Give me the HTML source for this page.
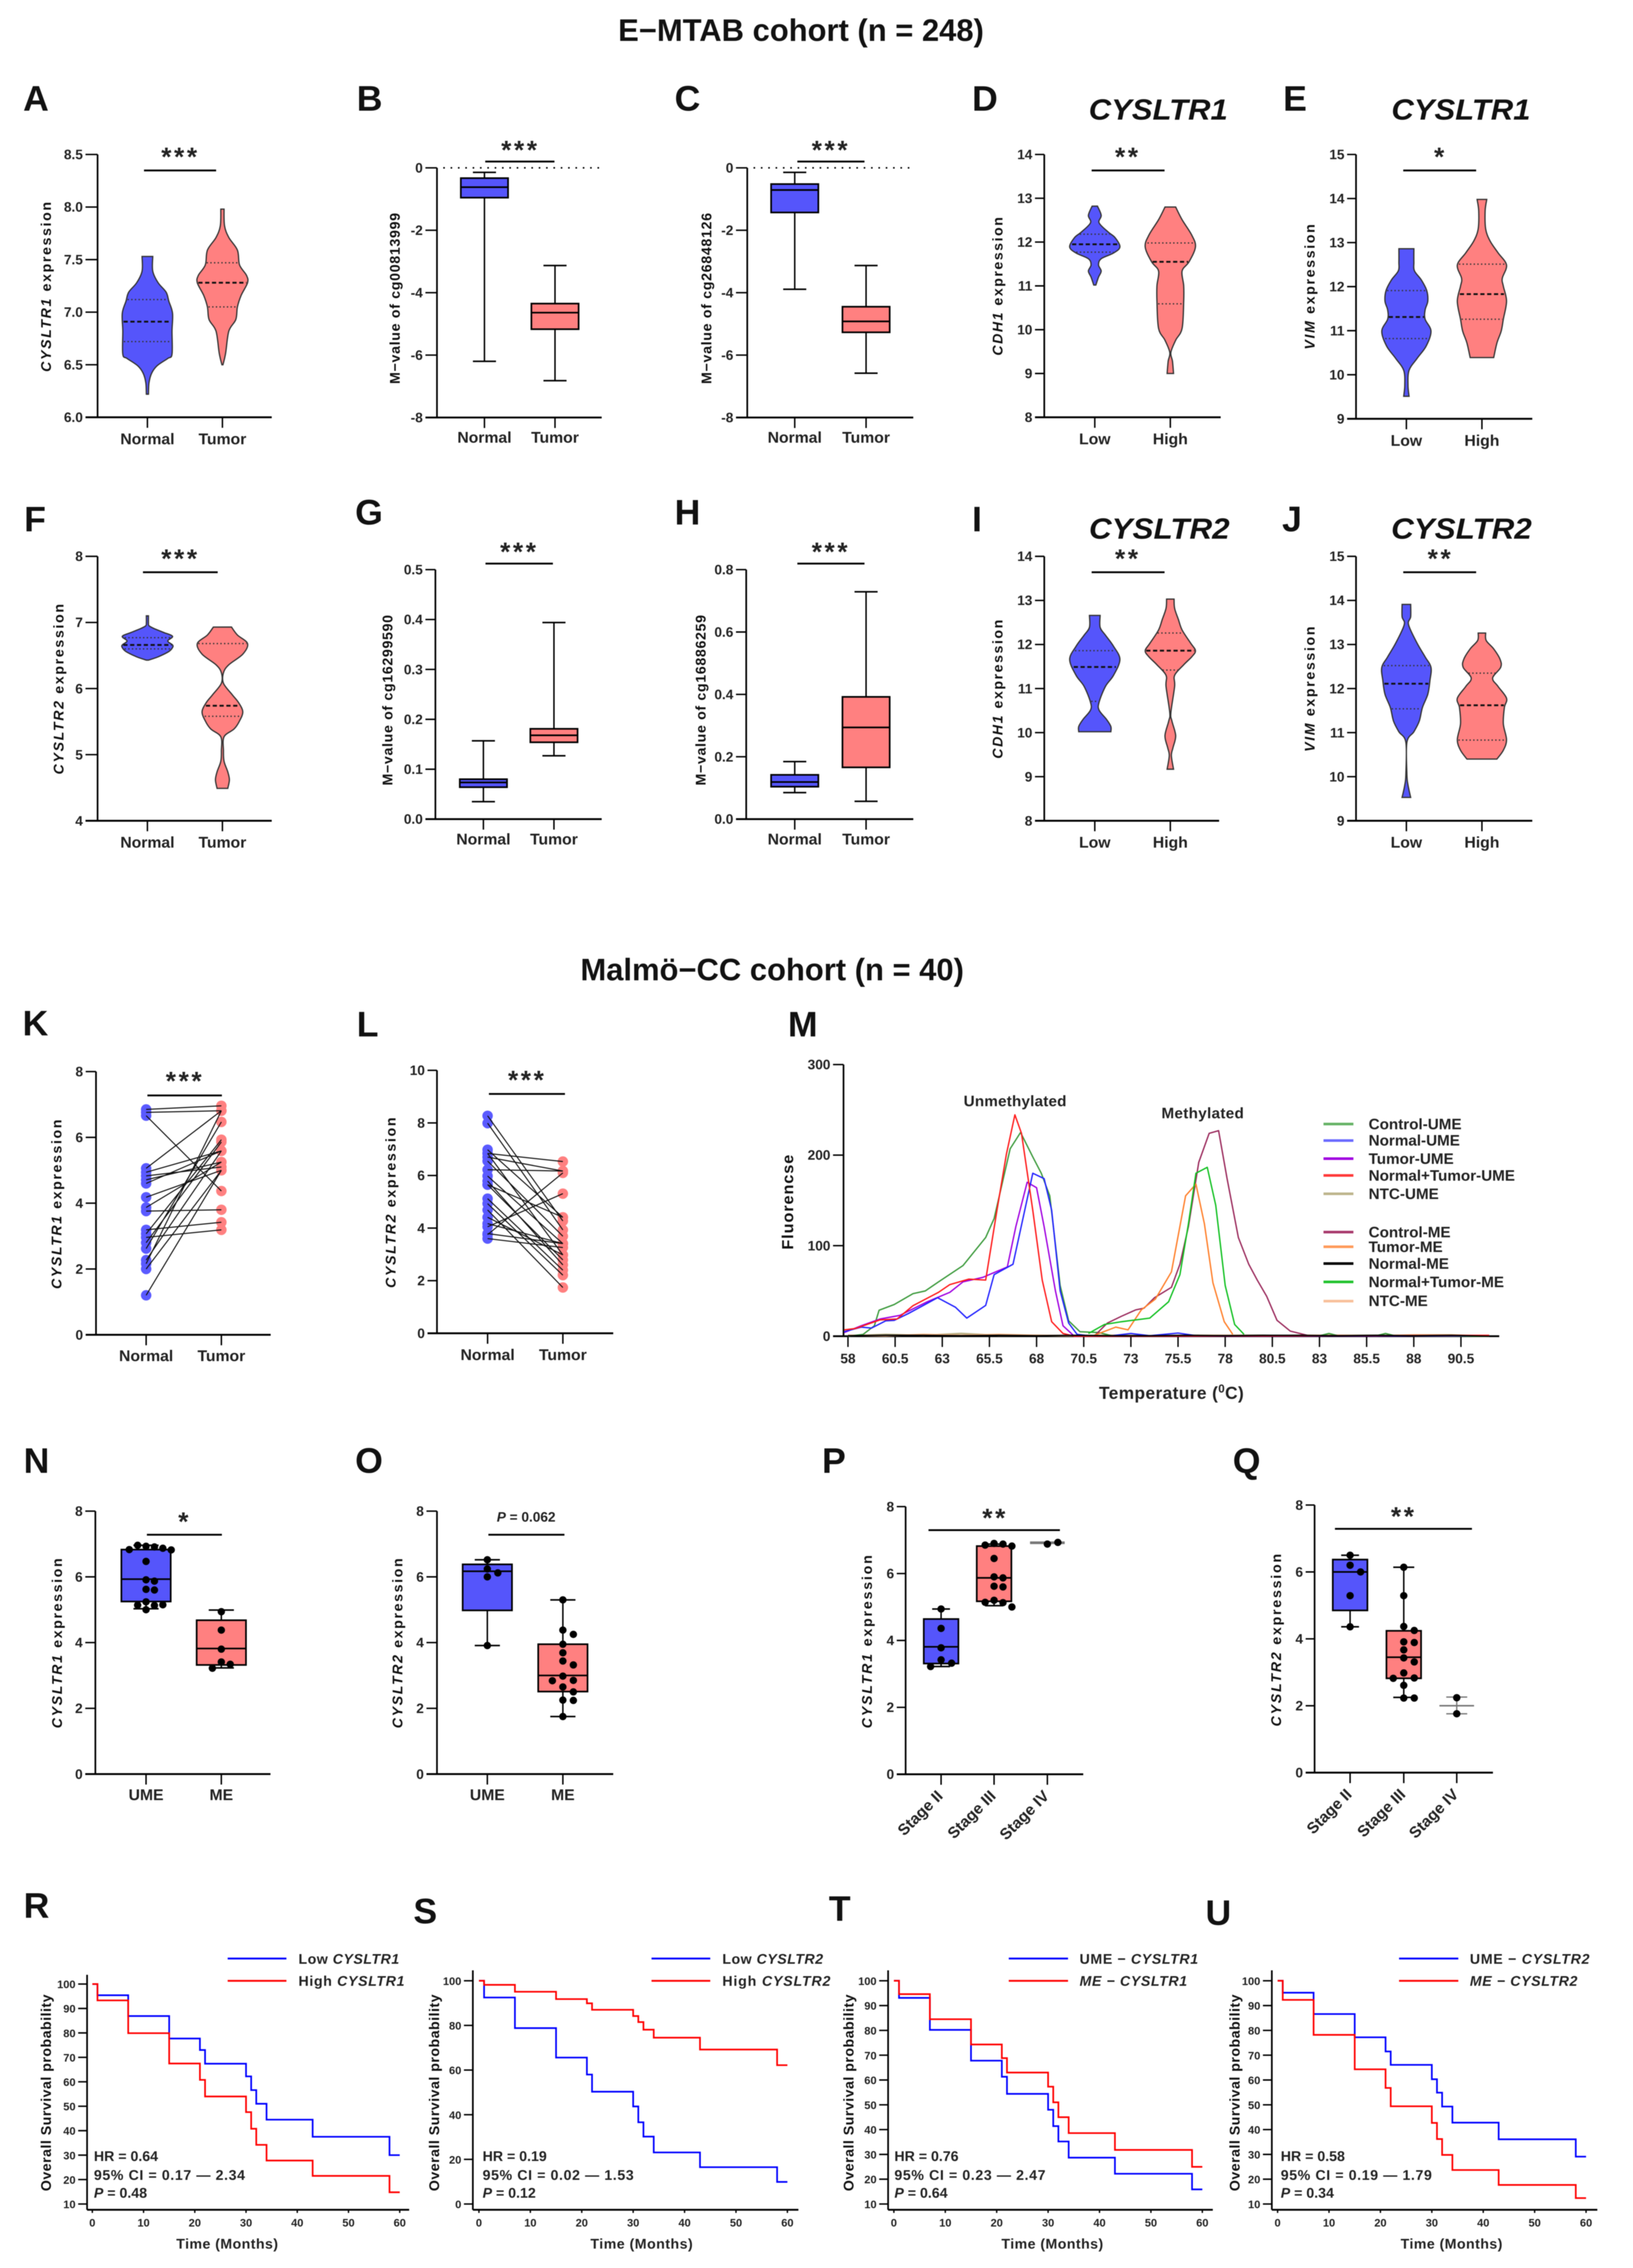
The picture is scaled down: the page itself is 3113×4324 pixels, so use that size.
<!DOCTYPE html>
<html lang="en">
<head>
<meta charset="utf-8">
<title>CYSLTR1 and CYSLTR2 expression figure</title>
<style>
html,body{margin:0;padding:0;background:#fff;}
svg{display:block;font-family:"Liberation Sans",Arial,sans-serif;fill:#111;filter:blur(0.7px);}
.heading{font-size:59px;font-weight:bold;text-anchor:middle;}
.letter{font-size:68px;font-weight:bold;}
.gene{font-size:56px;font-weight:bold;font-style:italic;text-anchor:middle;}
.ytitle{font-size:27px;font-weight:bold;text-anchor:middle;}
.star{font-size:50px;font-weight:bold;text-anchor:middle;letter-spacing:5px;fill:#222;transform:translate(0,-6px);}
.sig{stroke:#000;stroke-width:3.5;}
.tick{font-size:26px;font-weight:bold;fill:#222;}
.cat{font-size:30px;font-weight:bold;fill:#222;}
.leg{font-size:29px;font-weight:bold;fill:#222;}
.km{font-size:27px;font-weight:bold;fill:#222;}
.kmtick{font-size:21px;font-weight:bold;fill:#222;}
.legline{stroke-width:5;}
</style>
</head>
<body>
<svg id="figure" xmlns="http://www.w3.org/2000/svg" width="3113" height="4324" viewBox="0 0 3113 4324">
<rect width="3113" height="4324" fill="#fff"/>
<text class="heading" x="1527" y="78">E−MTAB cohort (n = 248)</text>
<text class="heading" x="1472" y="1869">Malmö−CC cohort (n = 40)</text>

<g id="panel-a">
<text class="letter" x="44" y="211">A</text>
<text class="ytitle" transform="translate(97,547) rotate(-90)" textLength="324"><tspan font-style="italic">CYSLTR1</tspan> expression</text>
<line class="sig" x1="274.5" x2="412" y1="325" y2="325"/>
<text class="star" x="344" y="322">***</text>
</g>
<g id="panel-b">
<text class="letter" x="680" y="211">B</text>
<text class="ytitle" transform="translate(762,569) rotate(-90)" textLength="326">M−value of cg00813999</text>
<line class="sig" x1="925" x2="1057" y1="308" y2="308"/>
<text class="star" x="992" y="309">***</text>
</g>
<g id="panel-c">
<text class="letter" x="1286" y="211">C</text>
<text class="ytitle" transform="translate(1356,569) rotate(-90)" textLength="326">M−value of cg26848126</text>
<line class="sig" x1="1520" x2="1648" y1="308" y2="308"/>
<text class="star" x="1584" y="309">***</text>
</g>
<g id="panel-d">
<text class="letter" x="1853" y="211">D</text>
<text class="gene" x="2208" y="228" textLength="265" lengthAdjust="spacingAndGlyphs">CYSLTR1</text>
<text class="ytitle" transform="translate(1911,546) rotate(-90)" textLength="264"><tspan font-style="italic">CDH1</tspan> expression</text>
<line class="sig" x1="2081" x2="2220" y1="325" y2="325"/>
<text class="star" x="2150" y="322">**</text>
</g>
<g id="panel-e">
<text class="letter" x="2446" y="211">E</text>
<text class="gene" x="2785" y="228" textLength="265" lengthAdjust="spacingAndGlyphs">CYSLTR1</text>
<text class="ytitle" transform="translate(2506,547) rotate(-90)" textLength="239"><tspan font-style="italic">VIM</tspan> expression</text>
<line class="sig" x1="2675" x2="2814" y1="325" y2="325"/>
<text class="star" x="2746" y="322">*</text>
</g>
<g id="panel-f">
<text class="letter" x="46" y="1013">F</text>
<text class="ytitle" transform="translate(121,1314) rotate(-90)" textLength="325"><tspan font-style="italic">CYSLTR2</tspan> expression</text>
<line class="sig" x1="272.5" x2="415" y1="1091" y2="1091"/>
<text class="star" x="344" y="1088">***</text>
</g>
<g id="panel-g">
<text class="letter" x="677" y="1000">G</text>
<text class="ytitle" transform="translate(748,1335) rotate(-90)" textLength="325">M−value of cg16299590</text>
<line class="sig" x1="925.5" x2="1054" y1="1074.5" y2="1074.5"/>
<text class="star" x="990" y="1075">***</text>
</g>
<g id="panel-h">
<text class="letter" x="1286" y="1000">H</text>
<text class="ytitle" transform="translate(1345,1335) rotate(-90)" textLength="325">M−value of cg16886259</text>
<line class="sig" x1="1520" x2="1648" y1="1074.5" y2="1074.5"/>
<text class="star" x="1584" y="1075">***</text>
</g>
<g id="panel-i">
<text class="letter" x="1853" y="1013">I</text>
<text class="gene" x="2210" y="1027" textLength="268" lengthAdjust="spacingAndGlyphs">CYSLTR2</text>
<text class="ytitle" transform="translate(1911,1314) rotate(-90)" textLength="265"><tspan font-style="italic">CDH1</tspan> expression</text>
<line class="sig" x1="2081" x2="2220" y1="1091" y2="1091"/>
<text class="star" x="2150" y="1088">**</text>
</g>
<g id="panel-j">
<text class="letter" x="2444" y="1013">J</text>
<text class="gene" x="2786" y="1027" textLength="268" lengthAdjust="spacingAndGlyphs">CYSLTR2</text>
<text class="ytitle" transform="translate(2506,1314) rotate(-90)" textLength="239"><tspan font-style="italic">VIM</tspan> expression</text>
<line class="sig" x1="2675" x2="2814" y1="1091" y2="1091"/>
<text class="star" x="2746" y="1088">**</text>
</g>
<g id="panel-k">
<text class="letter" x="43" y="1974">K</text>
<text class="ytitle" transform="translate(117,2296) rotate(-90)" textLength="323"><tspan font-style="italic">CYSLTR1</tspan> expression</text>
<line class="sig" x1="281" x2="423" y1="2088.5" y2="2088.5"/>
<text class="star" x="352.7" y="2084">***</text>
</g>
<g id="panel-l">
<text class="letter" x="680" y="1976">L</text>
<text class="ytitle" transform="translate(754,2293) rotate(-90)" textLength="325"><tspan font-style="italic">CYSLTR2</tspan> expression</text>
<line class="sig" x1="932" x2="1077" y1="2085.6" y2="2085.6"/>
<text class="star" x="1005" y="2082">***</text>
</g>
<g id="panel-m">
<text class="letter" x="1502" y="1976">M</text>
<text class="ytitle" font-size="31" style="font-size:31px" transform="translate(1512,2292) rotate(-90)" textLength="181">Fluorencse</text>
<text font-size="33" font-weight="bold" fill="#222" x="2233" y="2667" text-anchor="middle" textLength="276">Temperature (<tspan dy="-12" font-size="22">0</tspan><tspan dy="12">C)</tspan></text>
<text class="leg" x="1935" y="2109" text-anchor="middle" textLength="196">Unmethylated</text>
<text class="leg" x="2292.6" y="2132" text-anchor="middle" textLength="157">Methylated</text>
<g>
<line class="legline" stroke="#66b266" x1="2523" x2="2580" y1="2143" y2="2143"/>
<text class="leg" x="2609" y="2153">Control-UME</text>
<line class="legline" stroke="#6a6aff" x1="2523" x2="2580" y1="2174.5" y2="2174.5"/>
<text class="leg" x="2609" y="2184">Normal-UME</text>
<line class="legline" stroke="#a000e0" x1="2523" x2="2580" y1="2209" y2="2209"/>
<text class="leg" x="2609" y="2219">Tumor-UME</text>
<line class="legline" stroke="#ff3a3a" x1="2523" x2="2580" y1="2241" y2="2241"/>
<text class="leg" x="2609" y="2251">Normal+Tumor-UME</text>
<line class="legline" stroke="#bdb48c" x1="2523" x2="2580" y1="2276" y2="2276"/>
<text class="leg" x="2609" y="2286">NTC-UME</text>
<line class="legline" stroke="#a83a6c" x1="2523" x2="2580" y1="2349" y2="2349"/>
<text class="leg" x="2609" y="2359">Control-ME</text>
<line class="legline" stroke="#ff9a5a" x1="2523" x2="2580" y1="2377" y2="2377"/>
<text class="leg" x="2609" y="2387">Tumor-ME</text>
<line class="legline" stroke="#000" x1="2523" x2="2580" y1="2409" y2="2409"/>
<text class="leg" x="2609" y="2419">Normal-ME</text>
<line class="legline" stroke="#22c32e" x1="2523" x2="2580" y1="2444" y2="2444"/>
<text class="leg" x="2609" y="2454">Normal+Tumor-ME</text>
<line class="legline" stroke="#f8c09a" x1="2523" x2="2580" y1="2480.6" y2="2480.6"/>
<text class="leg" x="2609" y="2490">NTC-ME</text>
</g>
</g>
<g id="panel-n">
<text class="letter" x="45" y="2808">N</text>
<text class="ytitle" transform="translate(118,3133) rotate(-90)" textLength="324"><tspan font-style="italic">CYSLTR1</tspan> expression</text>
<line class="sig" x1="280" x2="423" y1="2926" y2="2926"/>
<text class="star" x="352" y="2924">*</text>
</g>
<g id="panel-o">
<text class="letter" x="677" y="2808">O</text>
<text class="ytitle" transform="translate(767,3133) rotate(-90)" textLength="324"><tspan font-style="italic">CYSLTR2</tspan> expression</text>
<line class="sig" x1="931" x2="1076" y1="2926" y2="2926"/>
<text class="tick" x="1003" y="2901" text-anchor="middle"><tspan font-style="italic">P</tspan> = 0.062</text>
</g>
<g id="panel-p">
<text class="letter" x="1567" y="2808">P</text>
<text class="ytitle" transform="translate(1662,3130) rotate(-90)" textLength="330"><tspan font-style="italic">CYSLTR1</tspan> expression</text>
<line class="sig" x1="1770" x2="2020.5" y1="2917.3" y2="2917.3"/>
<text class="star" x="1897" y="2917">**</text>
</g>
<g id="panel-q">
<text class="letter" x="2350" y="2808">Q</text>
<text class="ytitle" transform="translate(2442,3127) rotate(-90)" textLength="329"><tspan font-style="italic">CYSLTR2</tspan> expression</text>
<line class="sig" x1="2544.8" x2="2806" y1="2914.8" y2="2914.8"/>
<text class="star" x="2676" y="2914">**</text>
</g>
<g id="panel-r">
<text class="letter" x="45" y="3656">R</text>
<text class="ytitle" transform="translate(97,3990) rotate(-90)" textLength="375">Overall Survival probability</text>
<text class="km" x="433" y="4287" text-anchor="middle" textLength="194">Time (Months)</text>
<g>
<line stroke="#0000ff" stroke-width="3.5" x1="434" x2="546" y1="3734" y2="3734"/>
<text class="km" x="569" y="3744" textLength="192">Low <tspan font-style="italic">CYSLTR1</tspan></text>
<line stroke="#ff0000" stroke-width="3.5" x1="434" x2="546" y1="3776.5" y2="3776.5"/>
<text class="km" x="569" y="3786" textLength="202">High <tspan font-style="italic">CYSLTR1</tspan></text>
</g>
<text class="km" x="179" y="4120">HR = 0.64</text>
<text class="km" x="179" y="4156" textLength="288">95% CI = 0.17 — 2.34</text>
<text class="km" x="179" y="4190"><tspan font-style="italic">P</tspan> = 0.48</text>
</g>
<g id="panel-s">
<text class="letter" x="788" y="3667">S</text>
<text class="ytitle" transform="translate(837,3990) rotate(-90)" textLength="375">Overall Survival probability</text>
<text class="km" x="1223" y="4287" text-anchor="middle" textLength="195">Time (Months)</text>
<g>
<line stroke="#0000ff" stroke-width="3.5" x1="1242" x2="1354" y1="3734" y2="3734"/>
<text class="km" x="1377" y="3744" textLength="192">Low <tspan font-style="italic">CYSLTR2</tspan></text>
<line stroke="#ff0000" stroke-width="3.5" x1="1242" x2="1354" y1="3776.5" y2="3776.5"/>
<text class="km" x="1377" y="3786" textLength="206">High <tspan font-style="italic">CYSLTR2</tspan></text>
</g>
<text class="km" x="920" y="4120">HR = 0.19</text>
<text class="km" x="920" y="4156" textLength="288">95% CI = 0.02 — 1.53</text>
<text class="km" x="920" y="4190"><tspan font-style="italic">P</tspan> = 0.12</text>
</g>
<g id="panel-t">
<text class="letter" x="1580" y="3662">T</text>
<text class="ytitle" transform="translate(1627,3990) rotate(-90)" textLength="375">Overall Survival probability</text>
<text class="km" x="2006" y="4287" text-anchor="middle" textLength="194">Time (Months)</text>
<g>
<line stroke="#0000ff" stroke-width="3.5" x1="1923" x2="2036" y1="3734" y2="3734"/>
<text class="km" x="2058" y="3744" textLength="226">UME − <tspan font-style="italic">CYSLTR1</tspan></text>
<line stroke="#ff0000" stroke-width="3.5" x1="1923" x2="2036" y1="3776.5" y2="3776.5"/>
<text class="km" x="2058" y="3786" textLength="205"><tspan font-style="italic">ME − CYSLTR1</tspan></text>
</g>
<text class="km" x="1705" y="4120">HR = 0.76</text>
<text class="km" x="1705" y="4156" textLength="288">95% CI = 0.23 — 2.47</text>
<text class="km" x="1705" y="4190"><tspan font-style="italic">P</tspan> = 0.64</text>
</g>
<g id="panel-u">
<text class="letter" x="2298" y="3670">U</text>
<text class="ytitle" transform="translate(2363,3990) rotate(-90)" textLength="375">Overall Survival probability</text>
<text class="km" x="2767" y="4287" text-anchor="middle" textLength="194">Time (Months)</text>
<g>
<line stroke="#0000ff" stroke-width="3.5" x1="2667" x2="2780" y1="3734" y2="3734"/>
<text class="km" x="2802" y="3744" textLength="228">UME − <tspan font-style="italic">CYSLTR2</tspan></text>
<line stroke="#ff0000" stroke-width="3.5" x1="2667" x2="2780" y1="3776.5" y2="3776.5"/>
<text class="km" x="2802" y="3786" textLength="205"><tspan font-style="italic">ME − CYSLTR2</tspan></text>
</g>
<text class="km" x="2441.5" y="4120">HR = 0.58</text>
<text class="km" x="2441.5" y="4156" textLength="288">95% CI = 0.19 — 1.79</text>
<text class="km" x="2441.5" y="4190"><tspan font-style="italic">P</tspan> = 0.34</text>
</g>
</svg>

<script>
/* ---------- category and tick labels ---------- */
const groupsNT = ['Normal', 'Tumor'];
const groupsLH = ['Low', 'High'];
const groupsUM = ['UME', 'ME'];
const groupsStage = ['Stage II', 'Stage III', 'Stage IV'];
const ticksA = ['6.0', '6.5', '7.0', '7.5', '8.0', '8.5'];
const ticksMeth = ['-8', '-6', '-4', '-2', '0'];
const ticks8to14 = ['8', '9', '10', '11', '12', '13', '14'];
const ticks9to15 = ['9', '10', '11', '12', '13', '14', '15'];
const ticksF = ['4', '5', '6', '7', '8'];
const ticksG = ['0.0', '0.1', '0.2', '0.3', '0.4', '0.5'];
const ticksH = ['0.0', '0.2', '0.4', '0.6', '0.8'];
const ticks0to8 = ['0', '2', '4', '6', '8'];
const ticks0to10 = ['0', '2', '4', '6', '8', '10'];
const ticksMeltY = ['0', '100', '200', '300'];
const ticksMeltX = ['58', '60.5', '63', '65.5', '68', '70.5', '73', '75.5', '78', '80.5', '83', '85.5', '88', '90.5'];
const ticksKmY10 = ['10', '20', '30', '40', '50', '60', '70', '80', '90', '100'];
const ticksKmY0 = ['0', '20', '40', '60', '80', '100'];
const ticksKmX = ['0', '10', '20', '30', '40', '50', '60'];

/* ---------- violin data: values, density, [q1, median, q3] ---------- */
const aNormalV = [6.22, 6.33, 6.42, 6.49, 6.56, 6.60, 6.82, 6.99, 7.105, 7.19, 7.28, 7.39, 7.53];
const aNormalD = [2, 3, 8, 18, 38, 46, 46, 47, 40, 35, 20, 10, 10];
const aNormalQ = [6.72, 6.91, 7.12];
const aTumorV = [6.50, 6.61, 6.82, 6.93, 7.05, 7.16, 7.28, 7.35, 7.45, 7.59, 7.71, 7.82, 7.98];
const aTumorD = [1, 6, 12, 25, 28, 35, 47, 45, 32, 28, 12, 4, 3];
const aTumorQ = [7.05, 7.28, 7.47];
const dLowV = [11.02, 11.2, 11.34, 11.48, 11.62, 11.75, 11.89, 12.1, 12.23, 12.44, 12.61, 12.82];
const dLowD = [2, 7, 12, 7, 12, 35, 47, 38, 25, 8, 12, 5];
const dLowQ = [11.77, 11.95, 12.18];
const dHighV = [9.0, 9.28, 9.48, 9.76, 10.03, 10.65, 11.0, 11.34, 11.55, 11.89, 12.16, 12.51, 12.8];
const dHighD = [6, 4, 1, 10, 22, 25, 25, 22, 35, 47, 40, 22, 10];
const dHighQ = [10.59, 11.55, 11.98];
const eLowV = [9.51, 9.76, 10.10, 10.37, 10.65, 10.99, 11.26, 11.47, 11.67, 11.91, 12.15, 12.36, 12.56, 12.86];
const eLowD = [5, 3, 5, 20, 37, 46, 35, 35, 40, 38, 28, 15, 14, 14];
const eLowQ = [10.82, 11.31, 11.91];
const eHighV = [10.39, 10.72, 10.99, 11.26, 11.67, 12.01, 12.19, 12.49, 12.77, 13.04, 13.31, 13.72, 13.98];
const eHighD = [22, 28, 36, 40, 46, 40, 38, 46, 30, 15, 7, 6, 9];
const eHighQ = [11.26, 11.83, 12.51];
const fNormalV = [6.43, 6.48, 6.56, 6.62, 6.66, 6.72, 6.79, 6.85, 6.91, 6.95, 6.99, 7.10];
const fNormalD = [2, 20, 40, 47, 47, 38, 47, 30, 12, 3, 2, 2];
const fNormalQ = [6.60, 6.66, 6.77];
const fTumorV = [4.49, 4.62, 4.74, 4.90, 5.06, 5.27, 5.39, 5.51, 5.65, 5.79, 5.91, 6.08, 6.24, 6.36, 6.52, 6.68, 6.81, 6.93];
const fTumorD = [10, 13, 10, 3, 2, 3, 22, 32, 38, 30, 18, 2, 2, 12, 38, 47, 28, 17];
const fTumorQ = [5.58, 5.74, 6.68];
const iLowV = [10.02, 10.14, 10.30, 10.51, 10.69, 11.05, 11.30, 11.66, 11.96, 12.21, 12.39, 12.66];
const iLowD = [30, 30, 22, 8, 8, 20, 35, 47, 35, 20, 10, 10];
const iLowQ = [10.71, 11.49, 11.86];
const iHighV = [9.17, 9.48, 9.66, 9.93, 10.26, 10.45, 11.05, 11.30, 11.54, 11.72, 11.86, 12.03, 12.33, 12.57, 12.82, 13.03];
const iHighD = [6, 2, 5, 10, 3, 1, 8, 8, 25, 40, 47, 38, 22, 15, 8, 7];
const iHighQ = [11.42, 11.86, 12.26];
const jLowV = [9.53, 9.81, 10.05, 10.78, 11.02, 11.26, 11.57, 11.87, 12.18, 12.48, 12.72, 13.03, 13.45, 13.63, 13.91];
const jLowD = [8, 3, 1, 1, 14, 24, 30, 40, 44, 46, 35, 20, 4, 8, 8];
const jLowQ = [11.54, 12.11, 12.52];
const jHighV = [10.40, 10.60, 10.84, 11.20, 11.57, 11.78, 12.05, 12.24, 12.48, 12.66, 12.90, 13.09, 13.26];
const jHighD = [28, 40, 46, 40, 42, 46, 30, 20, 35, 34, 22, 8, 7];
const jHighQ = [10.83, 11.62, 12.35];

/* ---------- box data: [low, q1, median, q3, high] ---------- */
const bNormalBox = [-6.2, -0.955, -0.62, -0.33, -0.145];
const bTumorBox = [-6.82, -5.17, -4.64, -4.35, -3.13];
const cNormalBox = [-3.89, -1.43, -0.71, -0.52, -0.145];
const cTumorBox = [-6.58, -5.27, -4.92, -4.45, -3.13];
const gNormalBox = [0.035, 0.064, 0.0735, 0.080, 0.157];
const gTumorBox = [0.127, 0.154, 0.168, 0.181, 0.394];
const hNormalBox = [0.085, 0.104, 0.119, 0.142, 0.1845];
const hTumorBox = [0.057, 0.166, 0.294, 0.392, 0.729];
const nUmeBox = [5.03, 5.25, 5.93, 6.83, 6.96];
const nMeBox = [3.23, 3.32, 3.82, 4.68, 4.99];
const oUmeBox = [3.91, 4.98, 6.17, 6.38, 6.52];
const oMeBox = [1.75, 2.51, 3.0, 3.95, 5.3];
const pStage2Box = [3.22, 3.31, 3.81, 4.64, 4.94];
const pStage3Box = [5.04, 5.17, 5.87, 6.82, 6.88];
const pStage4Line = [6.9, 6.92, 6.94];
const qStage2Box = [4.36, 4.85, 6.0, 6.37, 6.5];
const qStage3Box = [2.25, 2.82, 3.45, 4.24, 6.14];
const qStage4Line = [1.76, 2.0, 2.26];

/* ---------- dots over boxes ---------- */
const nUmeDots = [6.93, 6.91, 6.96, 6.87, 6.83, 6.82, 6.47, 5.91, 5.87, 5.62, 5.6, 5.24, 5.13, 5.14, 5.15, 5.0];
const nMeDots = [4.94, 4.38, 3.8, 3.41, 3.34, 3.22];
const oUmeDots = [6.52, 6.24, 6.12, 6.0, 3.91];
const oMeDots = [5.3, 4.38, 4.25, 3.95, 3.69, 3.44, 3.32, 2.98, 2.85, 2.84, 2.65, 2.5, 2.25, 2.24, 1.75];
const pStage2Dots = [4.94, 4.36, 3.78, 3.42, 3.32, 3.22];
const pStage3Dots = [6.9, 6.88, 6.85, 6.82, 6.45, 5.9, 5.87, 5.62, 5.6, 5.2, 5.13, 5.14, 5.0];
const pStage4Dots = [6.88, 6.93];
const qStage2Dots = [6.5, 6.2, 6.0, 5.29, 4.36];
const qStage3Dots = [6.14, 5.29, 4.37, 4.25, 3.91, 3.89, 3.67, 3.43, 3.31, 2.98, 2.83, 2.82, 2.61, 2.23, 2.23];
const qStage4Dots = [2.24, 1.76];

/* ---------- paired samples ---------- */
const kNormal = [6.85, 6.76, 6.66, 5.06, 4.94, 4.83, 4.71, 4.6, 4.18, 3.87, 3.76, 3.19, 3.07, 2.96, 2.8, 2.62, 2.27, 2.16, 2.0, 1.2];
const kTumor = [6.96, 6.81, 4.37, 6.81, 5.59, 5.10, 5.25, 5.59, 5.0, 5.25, 3.8, 3.42, 5.93, 3.19, 5.86, 6.47, 5.59, 6.81, 5.0, 5.0];
const lNormal = [8.27, 7.99, 6.98, 6.84, 6.84, 6.7, 6.55, 6.22, 5.98, 5.79, 5.65, 5.65, 5.12, 4.93, 4.69, 4.41, 4.17, 4.05, 3.79, 3.75, 3.6];
const lTumor = [4.27, 3.93, 4.41, 6.53, 2.98, 6.17, 3.69, 6.17, 3.41, 2.6, 4.41, 2.79, 2.4, 2.21, 1.74, 2.98, 3.41, 5.31, 3.41, 6.1, 3.26];

/* ---------- melt curves (temperature, fluorescence) ---------- */
const meltControlUmeT = [58, 58.8, 59.4, 59.65, 60.45, 61.45, 62.1, 62.8, 64.1, 65.3, 65.75, 66.6, 67.15, 67.8, 68.25, 68.7, 69.25, 69.7, 70.3, 71.3, 72, 83, 83.5, 84, 86, 86.5, 87, 92];
const meltControlUmeF = [0, 2, 11.5, 28.7, 35, 47, 50, 60, 78, 109, 130, 207, 225, 198, 180, 155, 56, 17, 5, 4, 0.5, 0.5, 3, 0.5, 0.5, 3, 0.5, 0];
const meltNormalUmeT = [57.8, 58.7, 59.25, 60, 60.45, 61.2, 62.75, 63.7, 64.3, 65.3, 65.75, 66.75, 67.8, 68.4, 68.8, 69.25, 69.7, 70.15, 71, 72, 73, 74, 75.5, 76.5, 92];
const meltNormalUmeF = [5, 10, 9, 17, 17.5, 25, 42.5, 32, 20, 34, 68, 79.5, 180, 174, 139, 50, 14.5, 2, 0, 0.5, 3, 0.5, 3.5, 0.5, 0.5];
const meltTumorUmeT = [57.8, 58.7, 59.7, 60.75, 62.2, 63.4, 64.1, 65.15, 66.45, 66.9, 67.5, 68, 68.4, 69, 69.4, 70, 92];
const meltTumorUmeF = [4, 11.5, 19, 23, 38, 48.5, 60, 65, 76.5, 121, 170, 164, 121, 50, 11.5, 0, 0.5];
const meltMixUmeT = [57.8, 58.4, 59.7, 60.6, 61.45, 62.8, 63.4, 64.4, 65.3, 65.9, 66.4, 66.85, 67.2, 67.8, 68.3, 68.8, 69.4, 70, 92];
const meltMixUmeF = [7, 8.5, 18, 19, 33.7, 48.5, 57, 63, 62, 139, 201, 244.5, 224, 139, 62, 16, 3, 0, 1];
const meltControlMeT = [71.05, 71.75, 72.5, 73.25, 73.7, 74.25, 75.15, 75.6, 76.05, 76.6, 77.15, 77.65, 78.1, 78.7, 79.25, 79.7, 80.2, 80.75, 81.45, 82.35];
const meltControlMeF = [0, 14.5, 22, 29, 31, 42.5, 54, 79.5, 121, 192, 224, 227, 174, 109, 79.5, 62, 44, 17.5, 5.6, 1];
const meltTumorMeT = [71.05, 72.2, 72.85, 73.55, 74.3, 75.15, 75.9, 76.45, 76.9, 77.35, 77.95, 78.4];
const meltTumorMeF = [1, 10, 7, 29, 41, 71, 155, 168, 124, 59, 16, 2];
const meltMixMeT = [70.75, 71.6, 72.5, 74, 75, 75.6, 76.05, 76.45, 77.05, 77.5, 78, 78.5, 79];
const meltMixMeF = [3, 13, 16, 20, 38, 68, 124, 180, 186.5, 144.5, 56, 13, 2];
const meltBaseT = [58, 60, 62, 64, 66, 68, 70, 72, 74, 76, 78, 80, 82, 84, 86, 88, 90, 92];
const meltNormalMeF = [0.5, 1, 1, 0.5, 1, 0.5, 1, 0.5, 0.5, 1, 0.5, 1, 1, 0.5, 1, 0.5, 1, 0];
const meltNtcUmeF = [0.5, 2, 1, 3, 1, 1, 0.5, 1, 0.5, 1, 1, 1, 0.5, 1, 1, 0.5, 0.5, 0];
const meltNtcMeF = [1, 0.5, 2, 1, 2, 1, 0.5, 1, 0.5, 0.5, 1, 0.5, 1, 1, 0.5, 1.5, 1.5, 0];

/* ---------- survival (level held from kmTimes[i] to kmTimes[i+1]) ---------- */
const kmTimes = [0, 1, 7, 15, 21, 22, 30, 31, 32, 34, 43, 58, 60];
const kmRLow = [100, 95.4, 86.9, 77.7, 73, 67.4, 62.2, 56.6, 51, 44.5, 37.5, 30];
const kmRHigh = [100, 93.3, 79.9, 67.5, 60.8, 54, 47.6, 40.8, 34.2, 27.8, 21.5, 14.8];
const kmSLow = [100, 92.5, 78.8, 65.6, 58, 50.3, 43.7, 36.6, 30.2, 23.1, 16.5, 9.9];
const kmSHigh = [100, 98.2, 95.1, 91.8, 89.9, 87, 84.2, 81.5, 78.1, 74.5, 69.2, 62.2];
const kmTUme = [100, 93.1, 80.2, 67.8, 61.3, 54.4, 48, 41.4, 35.2, 28.7, 22.2, 15.9];
const kmTMe = [100, 94.6, 84.5, 74.3, 68.8, 63, 57.3, 51, 45, 38.6, 31.8, 25];
const kmUUme = [100, 95.2, 86.6, 77.2, 71.5, 66.1, 60.3, 54.9, 49.3, 42.8, 36.1, 29.1];
const kmUMe = [100, 92.3, 78.2, 64.3, 56.8, 49.4, 42.7, 36.2, 29.8, 23.7, 17.7, 12.4];

/* ---------- layout of each axis frame ---------- */
const BLUE = '#5555fb';
const PINK = '#ff8080';
const axisA = {id:'a', x:186, yMinPx:795.6, yMaxPx:294.5, dMin:6, dMax:8.5, left:163, right:518, cats:[281,424], labelY:847};
const axisB = {id:'b', x:833, yMinPx:796, yMaxPx:320, dMin:-8, dMax:0, left:811, right:1147, cats:[923.5,1058], labelY:844};
const axisC = {id:'c', x:1424.5, yMinPx:796, yMaxPx:320, dMin:-8, dMax:0, left:1403, right:1741, cats:[1515,1651], labelY:844};
const axisD = {id:'d', x:1990.7, yMinPx:795.6, yMaxPx:294.5, dMin:8, dMax:14, left:1973, right:2327, cats:[2087,2231], labelY:847};
const axisE = {id:'e', x:2585, yMinPx:798.4, yMaxPx:294.5, dMin:9, dMax:15, left:2568, right:2921, cats:[2681,2825], labelY:850};
const axisF = {id:'f', x:186, yMinPx:1564.8, yMaxPx:1060.7, dMin:4, dMax:8, left:163, right:518, cats:[281,424], labelY:1616};
const axisG = {id:'g', x:830, yMinPx:1561.7, yMaxPx:1086, dMin:0, dMax:0.5, left:811, right:1147, cats:[921.5,1056], labelY:1610};
const axisH = {id:'h', x:1422.5, yMinPx:1561.7, yMaxPx:1086, dMin:0, dMax:0.8, left:1403, right:1741, cats:[1515,1651], labelY:1610};
const axisI = {id:'i', x:1990.7, yMinPx:1564.8, yMaxPx:1060.7, dMin:8, dMax:14, left:1973, right:2324, cats:[2087,2231], labelY:1616};
const axisJ = {id:'j', x:2585, yMinPx:1564.8, yMaxPx:1060.7, dMin:9, dMax:15, left:2568, right:2921, cats:[2681,2825], labelY:1616};
const axisK = {id:'k', x:183, yMinPx:2544.8, yMaxPx:2043, dMin:0, dMax:8, left:163.4, right:516, cats:[278.6,422], labelY:2595};
const axisL = {id:'l', x:833, yMinPx:2541.9, yMaxPx:2040.6, dMin:0, dMax:10, left:815, right:1169, cats:[929.5,1073], labelY:2593};
const axisN = {id:'n', x:181.8, yMinPx:3382.3, yMaxPx:2881, dMin:0, dMax:8, left:162.6, right:515.6, cats:[278.4,421.9], labelY:3432};
const axisO = {id:'o', x:833, yMinPx:3382.3, yMaxPx:2881, dMin:0, dMax:8, left:813, right:1169, cats:[929,1073], labelY:3432};
const axisP = {id:'p', x:1726.4, yMinPx:3382.7, yMaxPx:2872.4, dMin:0, dMax:8, left:1709.5, right:2065, cats:[1794,1895,1996.6], rotateY:3426};
const axisQ = {id:'q', x:2506, yMinPx:3379.6, yMaxPx:2869.4, dMin:0, dMax:8, left:2489, right:2846, cats:[2573.7,2676,2777], rotateY:3423};
const axisM = {id:'m', x:1608, yMinPx:2547.5, yMaxPx:2029.6, dMin:0, dMax:300, left:1588, right:2858, xDomain:[58,90.5], xRange:[1616.5,2785], tickBottom:2568, labelY:2599};
const axisR = {id:'r', x:166, yMinPx:4202, yMaxPx:3782.6, dMin:10, dMax:100, lineTop:3765, lineBottom:4213, left:149, right:780, xDomain:[0,60], xRange:[176,762], tickBottom:4219, labelY:4245, km:true};
const axisS = {id:'s', x:901.4, yMinPx:4202, yMaxPx:3776.4, dMin:0, dMax:100, lineTop:3756.5, lineBottom:4213, left:884, right:1522, xDomain:[0,60], xRange:[913,1501], tickBottom:4219, labelY:4245, km:true};
const axisT = {id:'t', x:1693, yMinPx:4202, yMaxPx:3776.4, dMin:10, dMax:100, lineTop:3756.5, lineBottom:4213, left:1676, right:2312, xDomain:[0,60], xRange:[1704,2292], tickBottom:4219, labelY:4245, km:true};
const axisU = {id:'u', x:2424.5, yMinPx:4202, yMaxPx:3776.4, dMin:10, dMax:100, lineTop:3756.5, lineBottom:4213, left:2407, right:3045, xDomain:[0,60], xRange:[2435.5,3023.5], tickBottom:4219, labelY:4245, km:true};

/* ---------- helpers ---------- */
const NS = 'http://www.w3.org/2000/svg';
function mk(tag, attrs, parent) {
  const el = document.createElementNS(NS, tag);
  for (const k in attrs) el.setAttribute(k, attrs[k]);
  parent.appendChild(el);
  return el;
}
function panelOf(axis) { return document.getElementById('panel-' + axis.id); }
function yScale(axis, v) { return axis.yMinPx + (v - axis.dMin) / (axis.dMax - axis.dMin) * (axis.yMaxPx - axis.yMinPx); }
function xScale(axis, v) { return axis.xRange[0] + (v - axis.xDomain[0]) / (axis.xDomain[1] - axis.xDomain[0]) * (axis.xRange[1] - axis.xRange[0]); }

function drawYAxis(axis, labels) {
  const g = mk('g', {}, panelOf(axis));
  
  
  const top = axis.lineTop !== undefined ? axis.lineTop : axis.yMaxPx;
  const bottom = axis.lineBottom !== undefined ? axis.lineBottom : axis.yMinPx;
  const spine = mk('line', {x1:axis.x, x2:axis.x, y1:top, y2:bottom, stroke:'#000', 'stroke-width':3.2}, g);
  
  
  labels.forEach(function (label) {
    const y = yScale(axis, Number(label));
    const tickLeft = axis.km ? axis.x - 17 : axis.left;
    const tick = mk('line', {x1:tickLeft, x2:axis.x, y1:y, y2:y, stroke:'#000', 'stroke-width':2.8}, g);
    
    
    const text = mk('text', {x:tickLeft - 5, y:y + (axis.km ? 8 : 9), 'text-anchor':'end', class: axis.km ? 'kmtick' : 'tick'}, g);
    text.textContent = label;
    
    
  });
}
function drawXBase(axis) {
  const y = axis.lineBottom !== undefined ? axis.lineBottom : axis.yMinPx;
  const x1 = axis.km ? axis.x : axis.left;
  const base = mk('line', {x1:x1, x2:axis.right, y1:y, y2:y, stroke:'#000', 'stroke-width':3.6}, panelOf(axis));
  
  
}
function drawCategoryAxis(axis, labels) {
  drawXBase(axis);
  const g = mk('g', {}, panelOf(axis));
  
  
  labels.forEach(function (label, i) {
    const x = axis.cats[i];
    const tick = mk('line', {x1:x, x2:x, y1:axis.yMinPx, y2:axis.yMinPx + 20, stroke:'#000', 'stroke-width':2.8}, g);
    
    
    const attrs = axis.rotateY
      ? {x:x + 5, y:axis.rotateY, 'text-anchor':'end', class:'cat', transform:'rotate(-45 ' + (x + 5) + ' ' + axis.rotateY + ')'}
      : {x:x, y:axis.labelY, 'text-anchor':'middle', class:'cat'};
    const text = mk('text', attrs, g);
    text.textContent = label;
    
    
  });
}
function drawLinearXAxis(axis, labels) {
  drawXBase(axis);
  const g = mk('g', {}, panelOf(axis));
  
  
  const y0 = axis.lineBottom !== undefined ? axis.lineBottom : axis.yMinPx;
  labels.forEach(function (label) {
    const x = xScale(axis, Number(label));
    const tick = mk('line', {x1:x, x2:x, y1:y0, y2:axis.tickBottom, stroke:'#000', 'stroke-width':2.6}, g);
    
    
    const text = mk('text', {x:x, y:axis.labelY, 'text-anchor':'middle', class: axis.km ? 'kmtick' : 'tick'}, g);
    text.textContent = label;
    
    
  });
}
function spline(points) {
  let d = '';
  for (let i = 0; i < points.length - 1; i++) {
    const p0 = points[Math.max(i - 1, 0)], p1 = points[i], p2 = points[i + 1], p3 = points[Math.min(i + 2, points.length - 1)];
    const c1x = p1[0] + (p2[0] - p0[0]) / 6, c1y = p1[1] + (p2[1] - p0[1]) / 6;
    const c2x = p2[0] - (p3[0] - p1[0]) / 6, c2y = p2[1] - (p3[1] - p1[1]) / 6;
    d += 'C' + c1x.toFixed(1) + ' ' + c1y.toFixed(1) + ' ' + c2x.toFixed(1) + ' ' + c2y.toFixed(1) + ' ' + p2[0].toFixed(1) + ' ' + p2[1].toFixed(1);
  }
  return d;
}
function densityAt(values, density, v) {
  for (let i = 0; i < values.length - 1; i++) {
    if (v >= values[i] && v <= values[i + 1]) {
      return density[i] + (density[i + 1] - density[i]) * (v - values[i]) / (values[i + 1] - values[i]);
    }
  }
  return 0;
}
function drawViolin(axis, cat, values, density, quartiles, fill, name) {
  const cx = axis.cats[cat], k = 1.02;
  const g = mk('g', {}, panelOf(axis));
  
  
  const right = values.map(function (v, i) { return [cx + density[i] * k, yScale(axis, v)]; });
  const left = values.map(function (v, i) { return [cx - density[i] * k, yScale(axis, v)]; }).reverse();
  const d = 'M' + right[0][0] + ' ' + right[0][1] + spline(right) + 'L' + left[0][0] + ' ' + left[0][1] + spline(left) + 'Z';
  const body = mk('path', {d:d, fill:fill, stroke:'#333', 'stroke-width':2.4}, g);
  
  
  quartiles.forEach(function (q, i) {
    const hw = densityAt(values, density, q) * k - 2;
    const isMedian = i === 1;
    const line = mk('line', {x1:cx - hw, x2:cx + hw, y1:yScale(axis, q), y2:yScale(axis, q), stroke: isMedian ? '#111' : '#333', 'stroke-width': isMedian ? 3.5 : 2.5, 'stroke-dasharray': isMedian ? '8 5' : '2.5 4.5'}, g);
    
    
  });
}
function drawBox(axis, cat, stats, fill, name, halfWidth, capHalf) {
  const cx = axis.cats[cat];
  const g = mk('g', {}, panelOf(axis));
  
  
  const stem = mk('line', {x1:cx, x2:cx, y1:yScale(axis, stats[0]), y2:yScale(axis, stats[4]), stroke:'#000', 'stroke-width':2.8}, g);
  
  
  [stats[0], stats[4]].forEach(function (v) {
    const cap = mk('line', {x1:cx - capHalf, x2:cx + capHalf, y1:yScale(axis, v), y2:yScale(axis, v), stroke:'#000', 'stroke-width':3}, g);
    
    
  });
  const top = yScale(axis, stats[3]), bot = yScale(axis, stats[1]);
  const rect = mk('rect', {x:cx - halfWidth, y:top, width:halfWidth * 2, height:bot - top, fill:fill, stroke:'#000', 'stroke-width':3.2}, g);
  
  
  const med = mk('line', {x1:cx - halfWidth, x2:cx + halfWidth, y1:yScale(axis, stats[2]), y2:yScale(axis, stats[2]), stroke:'#000', 'stroke-width':3.2}, g);
  
  
}
function drawSpanLine(axis, cat, stats, name, halfWidth, capHalf) {
  const cx = axis.cats[cat];
  const g = mk('g', {}, panelOf(axis));
  
  
  const stem = mk('line', {x1:cx, x2:cx, y1:yScale(axis, stats[0]), y2:yScale(axis, stats[2]), stroke:'#777', 'stroke-width':2.5}, g);
  
  
  [stats[0], stats[2]].forEach(function (v) {
    const cap = mk('line', {x1:cx - capHalf, x2:cx + capHalf, y1:yScale(axis, v), y2:yScale(axis, v), stroke:'#777', 'stroke-width':2.5}, g);
    
    
  });
  const med = mk('line', {x1:cx - halfWidth, x2:cx + halfWidth, y1:yScale(axis, stats[1]), y2:yScale(axis, stats[1]), stroke:'#777', 'stroke-width':3}, g);
  
  
}
function drawSwarm(axis, cat, values, step, name) {
  const cx = axis.cats[cat];
  const g = mk('g', {}, panelOf(axis));
  
  
  const placed = [];
  const slots = [0, 1, -1, 2, -2, 3, -3, 4, -4];
  values.forEach(function (v) {
    const y = yScale(axis, v);
    let slot = 0;
    for (let s = 0; s < slots.length; s++) {
      const clash = placed.some(function (p) { return p[0] === slots[s] && Math.abs(p[1] - y) < 13; });
      if (!clash) { slot = slots[s]; break; }
    }
    placed.push([slot, y]);
    const dot = mk('circle', {cx:cx + slot * step, cy:y, r:7, fill:'#000'}, g);
    
    
  });
}
function drawPaired(axis, before, after) {
  const g = mk('g', {}, panelOf(axis));
  
  
  const x0 = axis.cats[0], x1 = axis.cats[1];
  before.forEach(function (v) {
    const dot = mk('circle', {cx:x0, cy:yScale(axis, v), r:10, fill:'#5a5aff'}, g);
    
    
  });
  after.forEach(function (v) {
    const dot = mk('circle', {cx:x1, cy:yScale(axis, v), r:10, fill:'#ff8080'}, g);
    
    
  });
  before.forEach(function (v, i) {
    const link = mk('line', {x1:x0, x2:x1, y1:yScale(axis, v), y2:yScale(axis, after[i]), stroke:'#111', 'stroke-width':2}, g);
    
    
  });
}
function drawMelt(axis, temps, fluor, color, width, name) {
  const pts = temps.map(function (t, i) { return xScale(axis, t).toFixed(1) + ',' + yScale(axis, fluor[i]).toFixed(1); }).join(' ');
  const line = mk('polyline', {points:pts, fill:'none', stroke:color, 'stroke-width':width, 'stroke-linejoin':'round'}, panelOf(axis));
  
  
}
function drawSurvival(axis, times, levels, color, name) {
  let d = '';
  levels.forEach(function (s, i) {
    const y = yScale(axis, s).toFixed(1);
    d += (i === 0 ? 'M' : 'L') + xScale(axis, times[i]).toFixed(1) + ' ' + y + 'L' + xScale(axis, times[i + 1]).toFixed(1) + ' ' + y;
  });
  const path = mk('path', {d:d, fill:'none', stroke:color, 'stroke-width':3.2}, panelOf(axis));
  
  
}
function drawZeroLine(axis) {
  const y = yScale(axis, 0);
  const dotted = mk('line', {x1:axis.x + 12, x2:axis.right + 1, y1:y, y2:y, stroke:'#000', 'stroke-width':3, 'stroke-dasharray':'3 11'}, panelOf(axis));
  
  
}

/* ---------- panels ---------- */
drawYAxis(axisA, ticksA); drawCategoryAxis(axisA, groupsNT);
drawViolin(axisA, 0, aNormalV, aNormalD, aNormalQ, BLUE, 'a-normal');
drawViolin(axisA, 1, aTumorV, aTumorD, aTumorQ, PINK, 'a-tumor');

drawYAxis(axisB, ticksMeth); drawCategoryAxis(axisB, groupsNT); drawZeroLine(axisB);
drawBox(axisB, 0, bNormalBox, BLUE, 'b-normal', 45, 22);
drawBox(axisB, 1, bTumorBox, PINK, 'b-tumor', 45, 22);

drawYAxis(axisC, ticksMeth); drawCategoryAxis(axisC, groupsNT); drawZeroLine(axisC);
drawBox(axisC, 0, cNormalBox, BLUE, 'c-normal', 45, 22);
drawBox(axisC, 1, cTumorBox, PINK, 'c-tumor', 45, 22);

drawYAxis(axisD, ticks8to14); drawCategoryAxis(axisD, groupsLH);
drawViolin(axisD, 0, dLowV, dLowD, dLowQ, BLUE, 'd-low');
drawViolin(axisD, 1, dHighV, dHighD, dHighQ, PINK, 'd-high');

drawYAxis(axisE, ticks9to15); drawCategoryAxis(axisE, groupsLH);
drawViolin(axisE, 0, eLowV, eLowD, eLowQ, BLUE, 'e-low');
drawViolin(axisE, 1, eHighV, eHighD, eHighQ, PINK, 'e-high');

drawYAxis(axisF, ticksF); drawCategoryAxis(axisF, groupsNT);
drawViolin(axisF, 0, fNormalV, fNormalD, fNormalQ, BLUE, 'f-normal');
drawViolin(axisF, 1, fTumorV, fTumorD, fTumorQ, PINK, 'f-tumor');

drawYAxis(axisG, ticksG); drawCategoryAxis(axisG, groupsNT);
drawBox(axisG, 0, gNormalBox, BLUE, 'g-normal', 45, 22);
drawBox(axisG, 1, gTumorBox, PINK, 'g-tumor', 45, 22);

drawYAxis(axisH, ticksH); drawCategoryAxis(axisH, groupsNT);
drawBox(axisH, 0, hNormalBox, BLUE, 'h-normal', 45, 22);
drawBox(axisH, 1, hTumorBox, PINK, 'h-tumor', 45, 22);

drawYAxis(axisI, ticks8to14); drawCategoryAxis(axisI, groupsLH);
drawViolin(axisI, 0, iLowV, iLowD, iLowQ, BLUE, 'i-low');
drawViolin(axisI, 1, iHighV, iHighD, iHighQ, PINK, 'i-high');

drawYAxis(axisJ, ticks9to15); drawCategoryAxis(axisJ, groupsLH);
drawViolin(axisJ, 0, jLowV, jLowD, jLowQ, BLUE, 'j-low');
drawViolin(axisJ, 1, jHighV, jHighD, jHighQ, PINK, 'j-high');

drawYAxis(axisK, ticks0to8); drawCategoryAxis(axisK, groupsNT);
drawPaired(axisK, kNormal, kTumor);

drawYAxis(axisL, ticks0to10); drawCategoryAxis(axisL, groupsNT);
drawPaired(axisL, lNormal, lTumor);

drawYAxis(axisM, ticksMeltY); drawLinearXAxis(axisM, ticksMeltX);
drawMelt(axisM, meltBaseT, meltNtcUmeF, '#b5ac80', 3, 'ntc-ume');
drawMelt(axisM, meltBaseT, meltNtcMeF, '#f5b27e', 3, 'ntc-me');
drawMelt(axisM, meltControlUmeT, meltControlUmeF, '#3c9a3c', 2.6, 'control-ume');
drawMelt(axisM, meltTumorUmeT, meltTumorUmeF, '#a000e0', 2.6, 'tumor-ume');
drawMelt(axisM, meltNormalUmeT, meltNormalUmeF, '#2222ff', 2.6, 'normal-ume');
drawMelt(axisM, meltMixUmeT, meltMixUmeF, '#ff1a1a', 2.6, 'normal-tumor-ume');
drawMelt(axisM, meltControlMeT, meltControlMeF, '#9a2a5c', 2.6, 'control-me');
drawMelt(axisM, meltTumorMeT, meltTumorMeF, '#ff7f2a', 2.6, 'tumor-me');
drawMelt(axisM, meltMixMeT, meltMixMeF, '#10c020', 2.6, 'normal-tumor-me');
drawMelt(axisM, meltBaseT, meltNormalMeF, '#000000', 2.6, 'normal-me');

drawYAxis(axisN, ticks0to8); drawCategoryAxis(axisN, groupsUM);
drawBox(axisN, 0, nUmeBox, BLUE, 'n-ume', 47, 24);
drawBox(axisN, 1, nMeBox, PINK, 'n-me', 47, 24);
drawSwarm(axisN, 0, nUmeDots, 16, 'n-ume');
drawSwarm(axisN, 1, nMeDots, 17, 'n-me');

drawYAxis(axisO, ticks0to8); drawCategoryAxis(axisO, groupsUM);
drawBox(axisO, 0, oUmeBox, BLUE, 'o-ume', 47, 24);
drawBox(axisO, 1, oMeBox, PINK, 'o-me', 47, 24);
drawSwarm(axisO, 0, oUmeDots, 20, 'o-ume');
drawSwarm(axisO, 1, oMeDots, 20, 'o-me');

drawYAxis(axisP, ticks0to8); drawCategoryAxis(axisP, groupsStage);
drawBox(axisP, 0, pStage2Box, BLUE, 'p-stage-ii', 33, 17);
drawBox(axisP, 1, pStage3Box, PINK, 'p-stage-iii', 33, 17);
drawSpanLine(axisP, 2, pStage4Line, 'p-stage-iv', 33, 33);
drawSwarm(axisP, 0, pStage2Dots, 20, 'p-stage-ii');
drawSwarm(axisP, 1, pStage3Dots, 17, 'p-stage-iii');
drawSwarm(axisP, 2, pStage4Dots, 20, 'p-stage-iv');

drawYAxis(axisQ, ticks0to8); drawCategoryAxis(axisQ, groupsStage);
drawBox(axisQ, 0, qStage2Box, BLUE, 'q-stage-ii', 33, 17);
drawBox(axisQ, 1, qStage3Box, PINK, 'q-stage-iii', 33, 20);
drawSpanLine(axisQ, 2, qStage4Line, 'q-stage-iv', 33, 20);
drawSwarm(axisQ, 0, qStage2Dots, 20, 'q-stage-ii');
drawSwarm(axisQ, 1, qStage3Dots, 20, 'q-stage-iii');
drawSwarm(axisQ, 2, qStage4Dots, 20, 'q-stage-iv');

drawYAxis(axisR, ticksKmY10); drawLinearXAxis(axisR, ticksKmX);
drawSurvival(axisR, kmTimes, kmRLow, '#0000ff', 'r-low');
drawSurvival(axisR, kmTimes, kmRHigh, '#ff0000', 'r-high');

drawYAxis(axisS, ticksKmY0); drawLinearXAxis(axisS, ticksKmX);
drawSurvival(axisS, kmTimes, kmSLow, '#0000ff', 's-low');
drawSurvival(axisS, kmTimes, kmSHigh, '#ff0000', 's-high');

drawYAxis(axisT, ticksKmY10); drawLinearXAxis(axisT, ticksKmX);
drawSurvival(axisT, kmTimes, kmTUme, '#0000ff', 't-ume');
drawSurvival(axisT, kmTimes, kmTMe, '#ff0000', 't-me');

drawYAxis(axisU, ticksKmY10); drawLinearXAxis(axisU, ticksKmX);
drawSurvival(axisU, kmTimes, kmUUme, '#0000ff', 'u-ume');
drawSurvival(axisU, kmTimes, kmUMe, '#ff0000', 'u-me');
</script>
</body>
</html>
